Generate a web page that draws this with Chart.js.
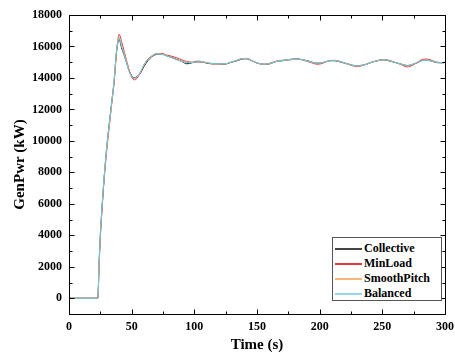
<!DOCTYPE html>
<html>
<head>
<meta charset="utf-8">
<script src="https://cdn.jsdelivr.net/npm/chart.js@4.4.0/dist/chart.umd.min.js"></script>
<style>
  html, body { margin: 0; padding: 0; background: #fff; }
  #wrap { position: relative; width: 455px; height: 354px; }
  #legend {
    position: absolute; left: 332px; top: 237px; width: 110px; height: 64px;
    border: 1px solid #555; background: #fff; box-sizing: border-box;
    font-family: "Liberation Serif", "Times New Roman", serif; font-weight: bold; font-size: 12px;
  }
  #legend .row { position: absolute; left: 0; height: 15px; line-height: 15px; white-space: nowrap; }
  #legend .sw { position: absolute; left: 2px; top: 7px; width: 27px; height: 1.5px; }
  #legend .lb { position: absolute; left: 31px; top: 0; color: #000; }
</style>
</head>
<body>
<div id="wrap">
  <canvas id="myChart" width="455" height="354"></canvas>
  <div id="legend"></div>
</div>
<script>
// time (s)
const time = [0, 23, 24, 25, 26, 27, 28,
  30, 32, 34, 36, 38, 40, 42, 44, 46, 48,
  50, 52, 54, 56, 58, 60, 63, 66, 70, 74,
  78, 82, 86, 90, 94, 98, 102, 106, 110, 114,
  118, 122, 126, 130, 134, 138, 142, 146, 150, 154,
  158, 162, 166, 170, 174, 178, 182, 186, 190, 194,
  198, 202, 206, 210, 214, 218, 222, 226, 230, 234,
  238, 242, 246, 250, 254, 258, 262, 266, 270, 274,
  278, 282, 286, 290, 294, 298, 300];

// GenPwr (kW)
const collective = [0, 0, 2200, 4000, 5300, 6500, 7600,
  9500, 11000, 12400, 13800, 15700, 16450, 15900, 15450, 14950, 14450,
  14150, 14000, 14080, 14200, 14450, 14750, 15100, 15350, 15500, 15520,
  15400, 15300, 15180, 15050, 14900, 14960, 15060, 15040, 14940, 14900,
  14910, 14870, 14900, 15010, 15090, 15200, 15240, 15090, 14950, 14880,
  14860, 14950, 15060, 15090, 15140, 15170, 15210, 15160, 15100, 15000,
  14940, 14960, 15060, 15100, 15070, 14980, 14910, 14810, 14780, 14810,
  14890, 15010, 15090, 15150, 15110, 15030, 14940, 14860, 14780, 14860,
  14970, 15110, 15120, 15050, 14970, 14960, 14990];

const minLoad = [0, 0, 2000, 3800, 5200, 6400, 7500,
  9300, 10800, 12300, 13700, 15700, 16780, 16300, 15700, 15100, 14500,
  14050, 13880, 13950, 14200, 14500, 14850, 15200, 15400, 15550, 15550,
  15450, 15380, 15280, 15150, 15050, 15000, 15000, 15000, 14950, 14900,
  14880, 14880, 14920, 15020, 15120, 15220, 15200, 15080, 14950, 14880,
  14900, 14980, 15080, 15120, 15150, 15200, 15220, 15150, 15050, 14950,
  14870, 14920, 15050, 15120, 15100, 15000, 14880, 14780, 14720, 14780,
  14900, 15020, 15100, 15160, 15150, 15050, 14950, 14800, 14700, 14800,
  15000, 15180, 15200, 15100, 15000, 14980, 15000];

const smoothPitch = [0, 0, 2250, 4050, 5350, 6550, 7650,
  9450, 10950, 12350, 13850, 15750, 16600, 16050, 15550, 15000, 14420,
  14100, 13960, 14030, 14230, 14530, 14850, 15150, 15380, 15530, 15510,
  15410, 15290, 15160, 15060, 14990, 14970, 15020, 15030, 14970, 14920,
  14900, 14890, 14920, 15020, 15120, 15220, 15220, 15100, 14960, 14880,
  14880, 14960, 15060, 15110, 15150, 15190, 15200, 15160, 15080, 14990,
  14940, 14970, 15050, 15100, 15090, 15000, 14900, 14800, 14770, 14800,
  14900, 15010, 15100, 15150, 15130, 15040, 14950, 14850, 14790, 14860,
  14990, 15110, 15130, 15060, 14990, 14970, 14980];

const balanced = [0, 0, 2300, 4100, 5400, 6600, 7700,
  9500, 11000, 12400, 13900, 15800, 16550, 16000, 15500, 14950, 14400,
  14100, 13980, 14050, 14250, 14550, 14850, 15150, 15380, 15530, 15500,
  15400, 15280, 15150, 15050, 14980, 14970, 15020, 15030, 14970, 14920,
  14900, 14890, 14920, 15020, 15120, 15220, 15220, 15100, 14960, 14880,
  14880, 14960, 15060, 15110, 15150, 15190, 15200, 15160, 15080, 14990,
  14940, 14970, 15050, 15100, 15090, 15000, 14900, 14800, 14770, 14800,
  14900, 15010, 15100, 15150, 15130, 15040, 14950, 14850, 14790, 14860,
  14990, 15110, 15130, 15060, 14990, 14970, 14980];

const seriesNames = ["Collective", "MinLoad", "SmoothPitch", "Balanced"];
const seriesColors = ["#1a1a1a", "#e8383d", "#f6b26b", "#5ec8e2"];
const legendColors = ["#444444", "#e8383d", "#f8b77a", "#92d8ee"];

const xTicks = [0, 50, 100, 150, 200, 250, 300];
const xMinorTicks = [25, 75, 125, 175, 225, 275];
const yTicks = [0, 2000, 4000, 6000, 8000, 10000, 12000, 14000, 16000, 18000];
const yMinorTicks = [-1000, 1000, 3000, 5000, 7000, 9000, 11000, 13000, 15000, 17000];

const font = "'Liberation Serif', 'Times New Roman', serif";

const toPoints = (vals) => vals.map((v, i) => ({ x: time[i], y: v }));
const allSeries = [collective, minLoad, smoothPitch, balanced];

// frame + inward ticks on all four sides
const frame = {
  id: "frame",
  afterDraw(chart) {
    const { ctx, chartArea: a, scales: { x, y } } = chart;
    ctx.save();
    ctx.strokeStyle = "#000";
    ctx.lineWidth = 1;
    ctx.beginPath();
    const L = Math.round(a.left) + 0.5, R = Math.round(a.right) + 0.5;
    const T = Math.round(a.top) + 0.5, B = Math.round(a.bottom) + 0.5;
    ctx.rect(L, T, R - L, B - T);
    const xt = (v, len) => {
      const px = Math.round(x.getPixelForValue(v)) + 0.5;
      ctx.moveTo(px, B); ctx.lineTo(px, B - len);
      ctx.moveTo(px, T); ctx.lineTo(px, T + len);
    };
    const yt = (v, len) => {
      const py = Math.round(y.getPixelForValue(v)) + 0.5;
      ctx.moveTo(L, py); ctx.lineTo(L + len, py);
      ctx.moveTo(R, py); ctx.lineTo(R - len, py);
    };
    xTicks.forEach(v => xt(v, 5));
    xMinorTicks.forEach(v => xt(v, 3));
    yTicks.forEach(v => yt(v, 5));
    yMinorTicks.forEach(v => yt(v, 3));
    ctx.stroke();
    ctx.restore();
  }
};

let ctx = document.getElementById("myChart");
let myChart = new Chart(ctx, {
  type: "line",
  data: {
    datasets: allSeries.map((s, i) => ({
      label: seriesNames[i],
      data: toPoints(s),
      borderColor: seriesColors[i],
      borderWidth: 1,
      pointRadius: 0,
      cubicInterpolationMode: "monotone",
      order: 4 - i,
    })),
  },
  options: {
    responsive: false,
    animation: false,
    layout: { padding: { left: 0, right: 10, top: 15, bottom: 0 } },
    plugins: { legend: { display: false }, tooltip: { enabled: false } },
    scales: {
      x: {
        type: "linear",
        min: 0,
        max: 300,
        grid: { display: false, drawTicks: false },
        border: { display: false },
        afterBuildTicks: (s) => { s.ticks = xTicks.map(v => ({ value: v })); },
        afterFit: (s) => { s.height = 40; s.paddingLeft = 0; s.paddingRight = 0; },
        ticks: { color: "#000", padding: 6, maxRotation: 0, font: { family: font, size: 12, weight: "bold" }, callback: (v) => String(v) },
        title: { display: true, text: "Time (s)", color: "#000", padding: { top: 0, bottom: 0 }, font: { family: font, size: 15, weight: "bold" } },
      },
      y: {
        min: -1000,
        max: 18000,
        grid: { display: false, drawTicks: false },
        border: { display: false },
        afterBuildTicks: (s) => { s.ticks = yTicks.map(v => ({ value: v })); },
        afterFit: (s) => { s.width = 69; s.paddingTop = 0; s.paddingBottom = 0; },
        ticks: { color: "#000", padding: 7, font: { family: font, size: 12, weight: "bold" }, callback: (v) => String(v) },
        title: { display: true, text: "GenPwr (kW)", color: "#000", padding: { top: 11, bottom: 0 }, font: { family: font, size: 15, weight: "bold" } },
      },
    },
  },
  plugins: [frame],
});

// html legend
const legend = document.getElementById("legend");
seriesNames.forEach((name, i) => {
  const row = document.createElement("div");
  row.className = "row";
  row.style.top = (3 + i * 15) + "px";
  const sw = document.createElement("span");
  sw.className = "sw";
  sw.style.background = legendColors[i];
  const lb = document.createElement("span");
  lb.className = "lb";
  lb.textContent = name;
  row.appendChild(sw);
  row.appendChild(lb);
  legend.appendChild(row);
});
</script>
</body>
</html>
